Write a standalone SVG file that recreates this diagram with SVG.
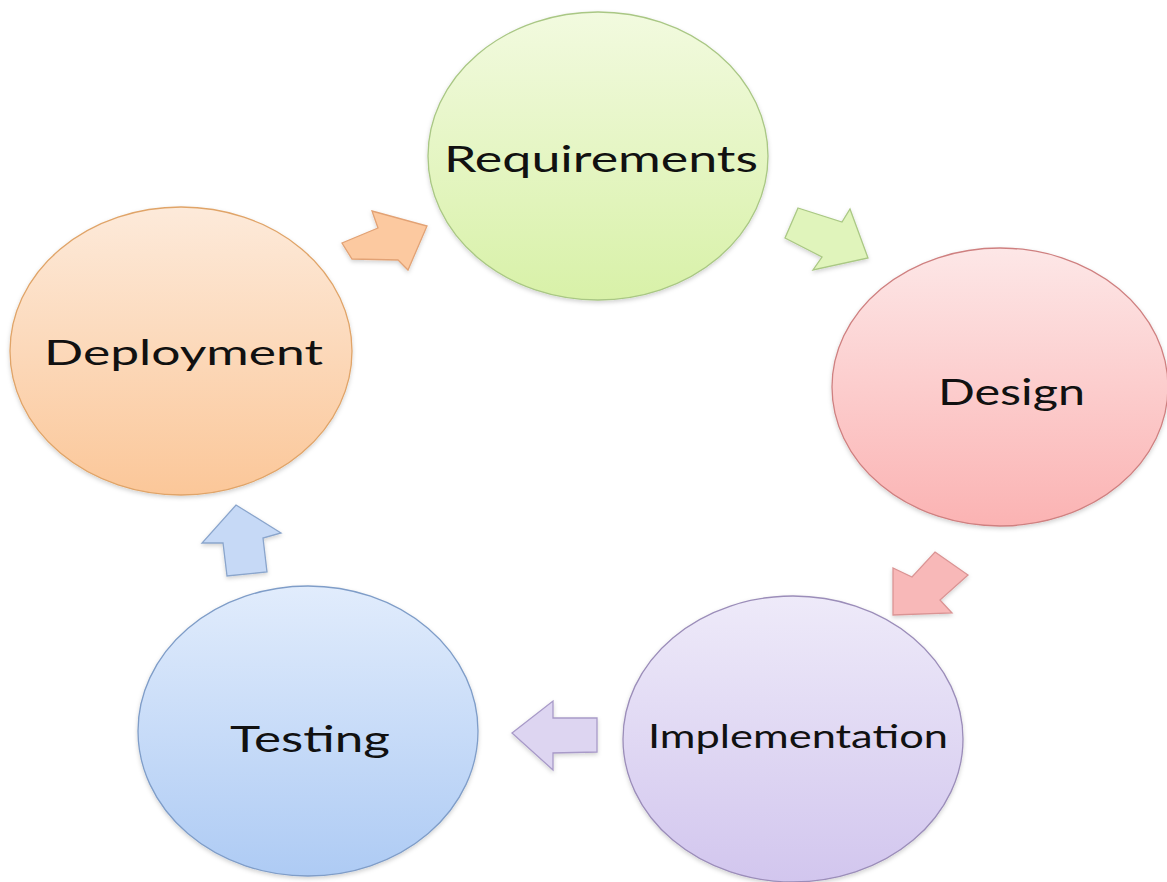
<svg xmlns="http://www.w3.org/2000/svg" width="1167" height="882" viewBox="0 0 1167 882">
<style>
.lbl{font-family:Lato,"Open Sans","Liberation Sans",sans-serif;fill:#111;text-anchor:start}
.node{stroke-width:1.3}
.arr{stroke-width:1.3;stroke-linejoin:miter}
</style>
<defs>
<linearGradient id="gReq" x1="0" y1="0" x2="0" y2="1"><stop offset="0" stop-color="#f2fadf"/><stop offset="1" stop-color="#d8f1a8"/></linearGradient>
<linearGradient id="gDes" x1="0" y1="0" x2="0" y2="1"><stop offset="0" stop-color="#fde7e7"/><stop offset="1" stop-color="#fbb3b3"/></linearGradient>
<linearGradient id="gImp" x1="0" y1="0" x2="0" y2="1"><stop offset="0" stop-color="#eeeaf9"/><stop offset="1" stop-color="#d2c6ee"/></linearGradient>
<linearGradient id="gTes" x1="0" y1="0" x2="0" y2="1"><stop offset="0" stop-color="#e1ecfc"/><stop offset="1" stop-color="#aecbf4"/></linearGradient>
<linearGradient id="gDep" x1="0" y1="0" x2="0" y2="1"><stop offset="0" stop-color="#fdeada"/><stop offset="1" stop-color="#fbc799"/></linearGradient>
<filter id="sh" x="-10%" y="-10%" width="120%" height="125%"><feDropShadow dx="0" dy="2" stdDeviation="2" flood-color="#000" flood-opacity="0.18"/></filter>
</defs>
<rect width="1167" height="882" fill="#fff"/>

<g id="connectors">
<polygon class="arr" fill="#fcc9a0" stroke="#e2a274" filter="url(#sh)" points="372,211 427,226 408,270 398,260 352,259 342,243 378,228"/>
<polygon class="arr" fill="#e0f4bb" stroke="#aac884" filter="url(#sh)" points="798,208 842,222 850,209 868,258 813,270 822,257 785,238"/>
<polygon class="arr" fill="#f8b8b8" stroke="#da9494" filter="url(#sh)" points="935,552 968,575 940,600 952,613 893,615 893,568 912,577"/>
<polygon class="arr" fill="#ddd5f1" stroke="#a89ac8" filter="url(#sh)" points="512,733 553,701 553,718 597,718 597,752 553,753 553,770"/>
<polygon class="arr" fill="#c6d9f6" stroke="#8aa5cc" filter="url(#sh)" points="236,505 281,533 263,538 267,572 227,576 223,543 202,543"/>
</g>

<g id="requirements">
<ellipse class="node" cx="598" cy="156" rx="170" ry="144" fill="url(#gReq)" stroke="#a9c784" filter="url(#sh)"/>
<text class="lbl" x="444" y="172" font-size="36" textLength="314" lengthAdjust="spacingAndGlyphs">Requirements</text>
</g>

<g id="design">
<ellipse class="node" cx="1000" cy="387" rx="168" ry="139" fill="url(#gDes)" stroke="#cf8080" filter="url(#sh)"/>
<text class="lbl" x="938" y="405" font-size="36" textLength="147" lengthAdjust="spacingAndGlyphs">Design</text>
</g>

<g id="implementation">
<ellipse class="node" cx="793" cy="739" rx="170" ry="143" fill="url(#gImp)" stroke="#9b8db9" filter="url(#sh)"/>
<text class="lbl" x="648" y="748" font-size="33" textLength="300" lengthAdjust="spacingAndGlyphs">Implementation</text>
</g>

<g id="testing">
<ellipse class="node" cx="308" cy="731" rx="170" ry="145" fill="url(#gTes)" stroke="#7f9dc8" filter="url(#sh)"/>
<text class="lbl" x="230" y="752" font-size="36" textLength="160" lengthAdjust="spacingAndGlyphs">Testing</text>
</g>

<g id="deployment">
<ellipse class="node" cx="181" cy="351" rx="171" ry="144" fill="url(#gDep)" stroke="#e0a468" filter="url(#sh)"/>
<text class="lbl" x="44" y="365" font-size="35" textLength="279" lengthAdjust="spacingAndGlyphs">Deployment</text>
</g>
</svg>
